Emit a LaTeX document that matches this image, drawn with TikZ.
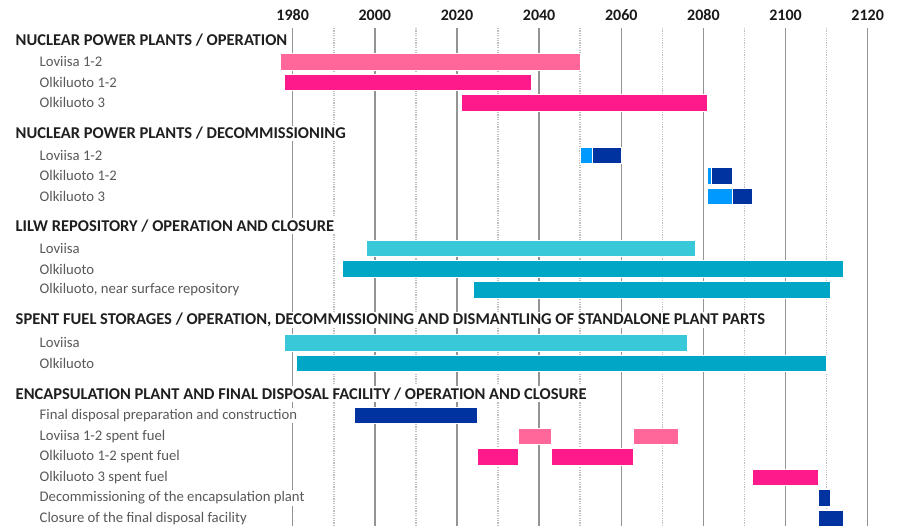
\documentclass[tikz,border=0pt]{standalone}
\usepackage{fontspec}
\setmainfont{Carlito}
\definecolor{pinkL}{RGB}{255,102,153}
\definecolor{pinkD}{RGB}{255,26,140}
\definecolor{blueL}{RGB}{0,153,255}
\definecolor{blueD}{RGB}{0,51,160}
\definecolor{cyanL}{RGB}{56,200,216}
\definecolor{cyanD}{RGB}{0,166,198}
\begin{document}
\begin{tikzpicture}[x=1pt,y=-1pt,
        sechead/.style={anchor=west,font=\bfseries\fontsize{16.5}{18}\selectfont,text=black!88,fill=white,inner xsep=0.5pt,inner ysep=1.5pt},
        rowlbl/.style={anchor=west,font=\fontsize{14.7}{16}\selectfont,text=black!65,fill=white,inner xsep=0.5pt,inner ysep=1.5pt},
        yrlbl/.style={font=\bfseries\fontsize{16}{18}\selectfont,text=black!90},
        bar/.style={draw=white,line width=0.7pt}]
        \useasboundingbox (0,0) rectangle (897,526);
        \begin{scope}[x=4.107pt,xshift=-7839.16pt]
        \foreach \yr in {1990,2010,...,2110} \draw[black!25,line width=1.5pt,dash pattern=on 1.2pt off 1.2pt](\yr,28)--(\yr,526);
        \foreach \yr in {1980,2000,...,2120} {\draw[black!42,line width=1.4pt](\yr,28)--(\yr,526); \node[yrlbl] (y\yr) at (\yr,15) {\yr};}
        % nuclear power plants / operation
        \filldraw[bar,fill=pinkL](1977,53.5)rectangle(2050,69.9);
        \filldraw[bar,fill=pinkD](1978,74)rectangle(2038,90.4);
        \filldraw[bar,fill=pinkD](2021,94.5)rectangle(2081,110.9);
        % decommissioning
        \filldraw[bar,fill=blueL](2050,147.1)rectangle(2053,163.5);
        \filldraw[bar,fill=blueD](2053,147.1)rectangle(2060,163.5);
        \filldraw[bar,fill=blueL](2081,167.6)rectangle(2082,184);
        \filldraw[bar,fill=blueD](2082,167.6)rectangle(2087,184);
        \filldraw[bar,fill=blueL](2081,188.3)rectangle(2087,204.7);
        \filldraw[bar,fill=blueD](2087,188.3)rectangle(2092,204.7);
        % lilw repository
        \filldraw[bar,fill=cyanL](1998,240.1)rectangle(2078,256.5);
        \filldraw[bar,fill=cyanD](1992,260.8)rectangle(2114,277.2);
        \filldraw[bar,fill=cyanD](2024,281.8)rectangle(2111,298.2);
        % spent fuel storages
        \filldraw[bar,fill=cyanL](1978,334.6)rectangle(2076,351);
        \filldraw[bar,fill=cyanD](1981,355.1)rectangle(2110,371.5);
        % encapsulation plant and final disposal
        \filldraw[bar,fill=blueD](1995,407.3)rectangle(2025,423.7);
        \filldraw[bar,fill=pinkL](2035,428)rectangle(2043,444.4);
        \filldraw[bar,fill=pinkL](2063,428)rectangle(2074,444.4);
        \filldraw[bar,fill=pinkD](2025,448.8)rectangle(2035,465.2);
        \filldraw[bar,fill=pinkD](2043,448.8)rectangle(2063,465.2);
        \filldraw[bar,fill=pinkD](2092,469.3)rectangle(2108,485.7);
        \filldraw[bar,fill=blueD](2108,489.8)rectangle(2111,506.2);
        \filldraw[bar,fill=blueD](2108,510.7)rectangle(2114,527.1);
        \end{scope}
        \node[sechead] (npo) at (15,40) {NUCLEAR POWER PLANTS / OPERATION};
        \node[rowlbl] (npoA) at (39,61.7) {Loviisa 1-2};
        \node[rowlbl] (npoB) at (39,82.2) {Olkiluoto 1-2};
        \node[rowlbl] (npoC) at (39,102.7) {Olkiluoto 3};
        \node[sechead] (npd) at (15,133.3) {NUCLEAR POWER PLANTS / DECOMMISSIONING};
        \node[rowlbl] (npdA) at (39,155.3) {Loviisa 1-2};
        \node[rowlbl] (npdB) at (39,175.8) {Olkiluoto 1-2};
        \node[rowlbl] (npdC) at (39,196.5) {Olkiluoto 3};
        \node[sechead] (lilw) at (15,226) {LILW REPOSITORY / OPERATION AND CLOSURE};
        \node[rowlbl] (lilwA) at (39,248.3) {Loviisa};
        \node[rowlbl] (lilwB) at (39,269) {Olkiluoto};
        \node[rowlbl] (lilwC) at (39,290) {Olkiluoto, near surface repository};
        \node[sechead] (sfs) at (15,320) {SPENT FUEL STORAGES / OPERATION, DECOMMISSIONING AND DISMANTLING OF STANDALONE PLANT PARTS};
        \node[rowlbl] (sfsA) at (39,342.8) {Loviisa};
        \node[rowlbl] (sfsB) at (39,363.3) {Olkiluoto};
        \node[sechead] (enc) at (15,394) {ENCAPSULATION PLANT AND FINAL DISPOSAL FACILITY / OPERATION AND CLOSURE};
        \node[rowlbl] (encA) at (39,415.5) {Final disposal preparation and construction};
        \node[rowlbl] (encB) at (39,436.2) {Loviisa 1-2 spent fuel};
        \node[rowlbl] (encC) at (39,457) {Olkiluoto 1-2 spent fuel};
        \node[rowlbl] (encD) at (39,477.5) {Olkiluoto 3 spent fuel};
        \node[rowlbl] (encE) at (39,498) {Decommissioning of the encapsulation plant};
        \node[rowlbl] (encF) at (39,518.9) {Closure of the final disposal facility};
        \end{tikzpicture}
\end{document}
